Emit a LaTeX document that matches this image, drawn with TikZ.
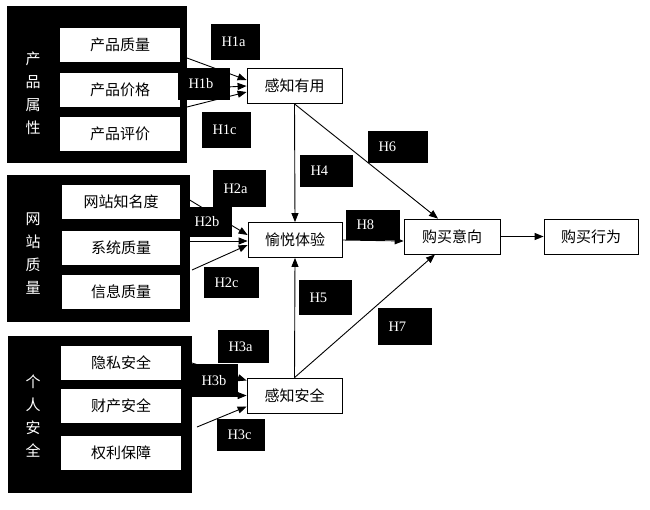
\documentclass[tikz,border=0pt]{standalone}
\usepackage{fontspec}
\setmainfont{Liberation Serif}
\newfontfamily\cjk{Noto Sans CJK SC}
\usetikzlibrary{arrows.meta}

\begin{document}
\begin{tikzpicture}[x=1pt, y=-1pt, >={Triangle[length=9pt, width=7pt]},
  group/.style={fill=black, inner sep=0pt},
  rim/.style={white, densely dotted, line width=1pt},
  item/.style={fill=white, inner sep=0pt, minimum width=120pt, minimum height=34pt,
    font=\cjk\fontsize{15}{18}\selectfont},
  side/.style={text=white, align=center, inner sep=0pt, font=\cjk\fontsize{15}{23}\selectfont},
  construct/.style={draw, fill=white, line width=0.8pt, inner sep=0pt,
    minimum width=95pt, minimum height=35pt, font=\cjk\fontsize{15}{18}\selectfont},
  hyp/.style={fill=black, text=white, align=left, inner xsep=10.5pt, inner ysep=0pt,
    minimum height=33pt, font=\fontsize{14.5}{16}\selectfont},
  link/.style={->, line width=0.9pt}]
  \useasboundingbox[fill=white] (0,0) rectangle (650,509);

  % Left groups
  \node[group, minimum width=180pt, minimum height=157pt] (g1) at (97,84.5) {};
  \node[group, minimum width=183pt, minimum height=147pt] (g2) at (98.5,248.5) {};
  \node[group, minimum width=184pt, minimum height=157pt] (g3) at (100,414.5) {};
  \draw[rim] (g1.north east) -- (g1.south east) -- (g1.south west);
  \draw[rim] (g2.north east) -- (g2.south east) -- (g2.south west);
  \draw[rim] (g3.north east) -- (g3.south east) -- (g3.south west);

  \node[side] (a1) at (33,93) {产\\品\\属\\性};
  \node[side] (a2) at (33,254) {网\\站\\质\\量};
  \node[side] (a3) at (33,416) {个\\人\\安\\全};

  \node[item] (quality) at (120,44.5) {产品质量};
  \node[item] (price)   at (120,89.5) {产品价格};
  \node[item] (review)  at (120,133.5) {产品评价};

  \node[item, minimum width=118pt] (fame)   at (121,201.5) {网站知名度};
  \node[item, minimum width=118pt] (system) at (121,247.5) {系统质量};
  \node[item, minimum width=118pt] (info)   at (121,292) {信息质量};

  \node[item] (privacy) at (121,363) {隐私安全};
  \node[item] (money)   at (121,406) {财产安全};
  \node[item] (rights)  at (121,453) {权利保障};

  % Constructs
  \node[construct] (pu) at (294.5,86) {感知有用};
  \node[construct, minimum width=94pt] (pe) at (295,240) {愉悦体验};
  \node[construct] (ps) at (294.5,395.5) {感知安全};
  \node[construct, minimum width=96pt] (pi) at (452,236.5) {购买意向};
  \node[construct, minimum width=94pt] (pb) at (591,236.5) {购买行为};

  % Arrow starts on the group edges
  \coordinate (s1a) at (187,58);
  \coordinate (s1b) at (187,89);
  \coordinate (s1c) at (187,107);
  \coordinate (s2a) at (188,199);
  \coordinate (s2b) at (190,241);
  \coordinate (s2c) at (192,270);
  \coordinate (s3a) at (192,363);
  \coordinate (s3b) at (192,396);
  \coordinate (s3c) at (197,427);

  \draw[link] (s1a) -- ([yshift=6pt]pu.west);
  \draw[link] (s1b) -- (pu.west);
  \draw[link] (s1c) -- ([yshift=-6pt]pu.west);
  \draw[link] (s2a) -- ([yshift=5pt]pe.west);
  \draw[link] (s2b) -- ([yshift=-1pt]pe.west);
  \draw[link] (s2c) -- ([yshift=-5pt]pe.west);
  \draw[link] (s3a) -- ([yshift=15pt]ps.west);
  \draw[link] (s3b) -- (ps.west);
  \draw[link] (s3c) -- ([yshift=-11pt]ps.west);

  \draw[link] (pu.south) -- (pe.north);
  \draw[link] (pu.south) -- ([xshift=-14pt]pi.north);
  \draw[link] (pe.east) -- ([yshift=-4.5pt]pi.west);
  \draw[link] (ps.north) -- (pe.south);
  \draw[link] (ps.north) -- ([xshift=-17pt]pi.south);
  \draw[link] (pi.east) -- (pb.west);

  % Hypothesis labels
  \node[hyp, text width=28pt, minimum height=36pt] (h1a) at (235.5,42) {H1a};
  \node[hyp, text width=31pt, minimum height=32pt] (h1b) at (204,84) {H1b};
  \node[hyp, text width=28pt, minimum height=36pt] (h1c) at (226.5,130) {H1c};
  \node[hyp, text width=32pt, minimum height=37pt] (h2a) at (239.5,188.5) {H2a};
  \node[hyp, text width=27pt, minimum height=30pt] (h2b) at (208,222) {H2b};
  \node[hyp, text width=34pt, minimum height=31pt] (h2c) at (231.5,282.5) {H2c};
  \node[hyp, text width=30pt] (h3a) at (243.5,346.5) {H3a};
  \node[hyp, text width=27pt, inner xsep=9.5pt] (h3b) at (215,380.5) {H3b};
  \node[hyp, text width=27pt, minimum height=32pt] (h3c) at (241,435) {H3c};
  \node[hyp, text width=32pt, minimum height=32pt] (h4) at (326.5,171) {H4};
  \node[hyp, text width=32pt, minimum height=35pt] (h5) at (325.5,297.5) {H5};
  \node[hyp, text width=39pt, minimum height=32pt] (h6) at (398,147) {H6};
  \node[hyp, text width=33pt, minimum height=37pt] (h7) at (405,326.5) {H7};
  \node[hyp, text width=33pt, minimum height=30pt] (h8) at (373,225) {H8};
\end{tikzpicture}
\end{document}
